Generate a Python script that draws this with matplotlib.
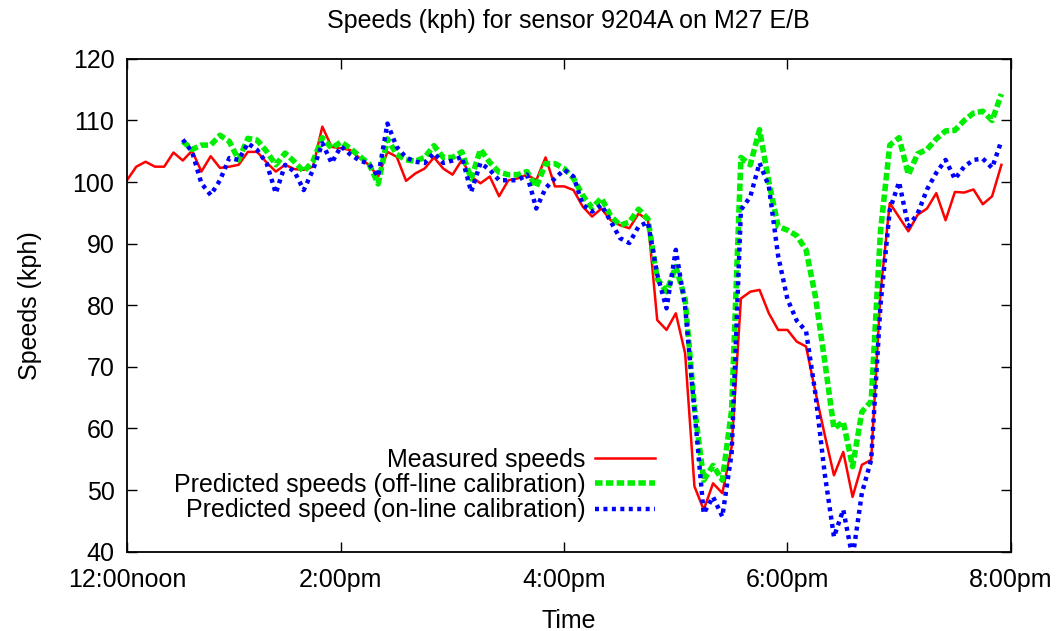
import numpy as np
import matplotlib
matplotlib.use("Agg")
import matplotlib.pyplot as plt

plt.rcParams['font.family'] = ['Liberation Sans', 'DejaVu Sans']

# 5-minute samples from noon; predictions start at sample 6
measured = [100.3, 102.5, 103.3, 102.5, 102.5, 104.8, 103.5, 105.1, 101.7, 104.2,
            102.3, 102.5, 102.8, 104.9, 104.9, 103.2, 101.7, 102.8, 102.1, 102.0,
            102.5, 109.0, 105.7, 105.5, 105.2, 103.9, 102.8, 100.9, 104.9, 104.1,
            100.2, 101.4, 102.2, 104.0, 102.2, 101.2, 103.6, 100.9, 99.8, 100.9,
            97.7, 100.3, 100.6, 101.2, 100.3, 104.0, 99.3, 99.3, 98.7, 96.0,
            94.4, 95.7, 93.8, 93.0, 92.5, 94.9, 93.8, 77.6, 76.0, 78.7,
            72.2, 50.6, 46.8, 51.1, 49.5, 57.0, 81.1, 82.2, 82.5, 78.7,
            76.0, 76.0, 74.1, 73.3, 66.0, 59.0, 52.4, 56.2, 48.9, 54.1,
            54.9, 82.0, 96.6, 94.3, 92.0, 94.7, 95.7, 98.2, 93.8, 98.4,
            98.3, 98.8, 96.4, 97.7, 102.8]

pred_start = 6
offline = [106.6, 105.3, 106.0, 106.0, 107.6, 106.6, 103.6, 107.1, 106.8,
           105.0, 102.8, 104.7, 103.3, 101.7, 103.4, 107.2, 105.5, 106.5, 105.5,
           104.2, 103.0, 99.7, 107.0, 104.5, 103.6, 103.4, 104.0, 105.9, 104.0,
           104.0, 104.9, 100.5, 105.3, 103.2, 101.6, 101.2, 101.2, 101.7, 99.2,
           103.0, 103.0, 102.2, 100.6, 97.8, 95.8, 97.4, 94.5, 93.0, 93.5,
           95.6, 94.0, 84.3, 82.2, 86.3, 81.0, 63.5, 51.6, 54.0, 51.6,
           63.0, 104.0, 102.8, 108.5, 100.0, 92.8, 92.2, 91.3, 89.0, 81.5,
           71.0, 60.0, 61.1, 53.8, 62.7, 64.4, 92.0, 106.0, 107.2, 101.2,
           104.6, 105.3, 107.0, 108.3, 108.4, 110.0, 111.2, 111.5, 110.0, 114.3]

online = [106.9, 104.9, 99.8, 97.9, 100.3, 103.9, 103.6, 106.3, 105.2,
          103.1, 98.2, 102.8, 101.7, 98.7, 102.0, 106.3, 103.1, 105.8, 104.5,
          103.5, 103.0, 100.9, 109.5, 105.7, 104.0, 103.3, 103.1, 104.7, 103.1,
          103.5, 104.1, 98.4, 103.1, 102.0, 100.3, 100.3, 100.3, 101.2, 95.7,
          99.0, 100.6, 102.0, 100.9, 96.3, 95.2, 96.3, 93.6, 90.9, 90.1,
          92.8, 93.5, 85.0, 79.5, 89.0, 79.8, 63.0, 46.2, 48.9, 45.7,
          56.0, 95.5, 97.6, 103.1, 99.3, 88.0, 81.0, 77.5, 75.8, 65.7,
          52.7, 42.4, 46.8, 39.0, 49.5, 54.9, 80.0, 95.5, 100.0, 92.8,
          94.9, 98.8, 101.5, 103.6, 100.5, 102.5, 103.6, 103.8, 102.3, 106.7]

tick_pos = [0, 23, 47, 71, 95]
tick_labels = ["12:00noon", "2:00pm", "4:00pm", "6:00pm", "8:00pm"]

x_meas = np.arange(len(measured))
x_pred = np.arange(pred_start, pred_start + len(offline))

fig = plt.figure(figsize=(10.59, 6.31), dpi=100)
ax = fig.add_axes([0.1199, 0.1257, 0.8345, 0.781])

ax.plot(x_meas, measured, color='#ff0000', lw=1.8, label="Measured speeds")
ax.plot(x_pred, offline, color='#00ee00', lw=4.0, dashes=(1.35, 0.6),
        label="Predicted speeds (off-line calibration)")
ax.plot(x_pred, online, color='#0000ff', lw=3.2, dashes=(0.9, 1.0),
        label="Predicted speed (on-line calibration)")

ax.set_xlim(0, 95)
ax.set_ylim(40, 120)
ax.set_xticks(tick_pos)
ax.set_xticklabels(tick_labels)
ax.set_yticks(np.arange(40, 121, 10))
ax.tick_params(direction='in', length=7, width=1, top=True, right=True,
               labelsize=18, pad=9)
ax.tick_params(axis='x', pad=12)
for s in ax.spines.values():
    s.set_linewidth(1.3)

ax.set_xlabel("Time", fontsize=18, labelpad=12)
ax.set_ylabel("Speeds (kph)", fontsize=18, labelpad=22)
ax.set_title("Speeds (kph) for sensor 9204A on M27 E/B", fontsize=18, pad=22)

ax.legend(loc='center right', bbox_to_anchor=(0.598, 0.135), frameon=False,
          markerfirst=False, fontsize=18, handlelength=2.4, handletextpad=0.4,
          labelspacing=0.05, borderpad=0, borderaxespad=0)

fig.savefig("out.png", dpi=100)
